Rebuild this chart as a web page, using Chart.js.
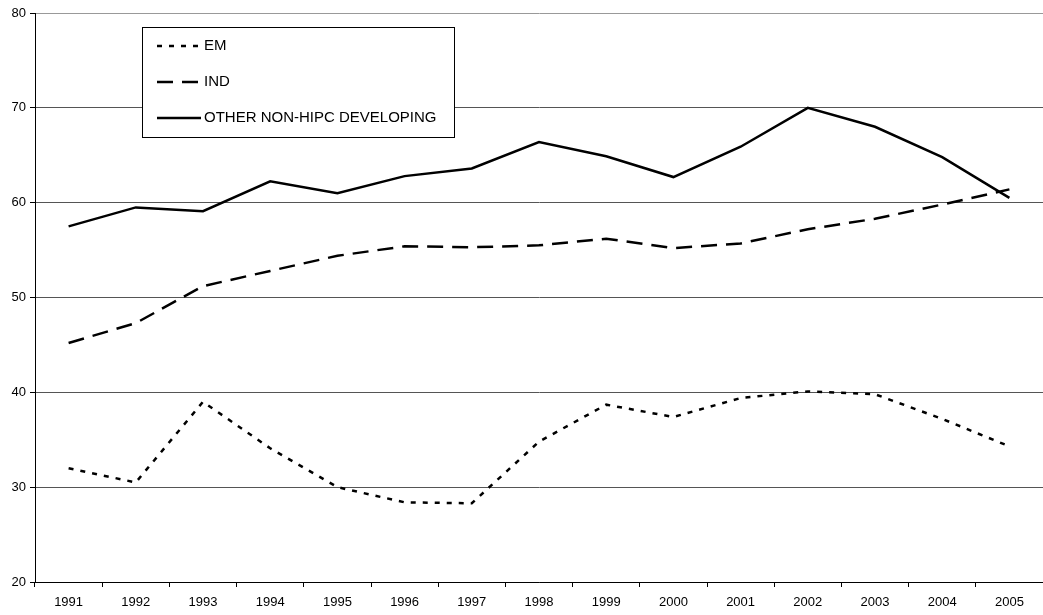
<!DOCTYPE html>
<html>
<head>
<meta charset="utf-8">
<script src="https://cdn.jsdelivr.net/npm/chart.js@4.4.1/dist/chart.umd.min.js"></script>
<style>
  html, body { margin: 0; padding: 0; background: #fff; }
  #wrap { width: 1043px; height: 615px; position: relative; }
</style>
</head>
<body>
<div id="wrap"><canvas id="chart"></canvas></div>
<script>
// years on the x axis
const years = ['1991', '1992', '1993', '1994', '1995', '1996', '1997', '1998', '1999', '2000', '2001', '2002', '2003', '2004', '2005'];

// series
const emValues = [32.0, 30.5, 39.0, 34.1, 30.0, 28.4, 28.3, 34.8, 38.7, 37.4, 39.4, 40.1, 39.8, 37.2, 34.3];
const indValues = [45.2, 47.3, 51.2, 52.8, 54.4, 55.4, 55.3, 55.5, 56.2, 55.2, 55.7, 57.2, 58.3, 59.8, 61.4];
const otherValues = [57.5, 59.5, 59.1, 62.25, 61.0, 62.8, 63.6, 66.4, 64.9, 62.7, 65.9, 70.0, 68.0, 64.8, 60.5];

const yTicks = [20, 30, 40, 50, 60, 70, 80];

const FONT = '"Liberation Sans", Arial, sans-serif';

// legend box drawn inside the plot, like the original
const boxLegend = {
    id: 'boxLegend',
    afterDraw(chart) {
        const ctx = chart.ctx;
        const x = 142, y = 27, w = 312, h = 110;
        ctx.save();
        ctx.fillStyle = '#fff';
        ctx.fillRect(x, y, w, h);
        ctx.strokeStyle = '#000';
        ctx.lineWidth = 1;
        ctx.strokeRect(x + 0.5, y + 0.5, w, h);
        chart.data.datasets.forEach((ds, i) => {
            const ly = y + 19 + i * 36;
            ctx.beginPath();
            ctx.setLineDash(ds.borderDash || []);
            ctx.lineWidth = 2.5;
            ctx.strokeStyle = '#000';
            ctx.moveTo(157, ly);
            ctx.lineTo(201, ly);
            ctx.stroke();
            ctx.setLineDash([]);
            ctx.fillStyle = '#000';
            ctx.font = '15px ' + FONT;
            ctx.textBaseline = 'middle';
            ctx.fillText(ds.label, 204, ly);
        });
        ctx.restore();
    }
};

const ctx = document.getElementById('chart').getContext('2d');
const chart = new Chart(ctx, {
    type: 'line',
    data: {
        labels: years,
        datasets: [
            {
                label: 'EM',
                data: emValues,
                borderColor: '#000',
                borderWidth: 2.5,
                borderDash: [5, 7],
                pointRadius: 0,
                tension: 0
            },
            {
                label: 'IND',
                data: indValues,
                borderColor: '#000',
                borderWidth: 2.5,
                borderDash: [16, 9],
                pointRadius: 0,
                tension: 0
            },
            {
                label: 'OTHER NON-HIPC DEVELOPING',
                data: otherValues,
                borderColor: '#000',
                borderWidth: 2.5,
                pointRadius: 0,
                tension: 0
            }
        ]
    },
    options: {
        responsive: true,
        maintainAspectRatio: false,
        animation: false,
        layout: { padding: { top: 13, right: 0, bottom: 0, left: 0 } },
        plugins: {
            legend: { display: false },
            tooltip: { enabled: false }
        },
        scales: {
            x: {
                offset: true,
                afterFit: (scale) => { scale.height = 33; },
                grid: { offset: true, drawOnChartArea: false, color: '#000', tickLength: 5 },
                border: { color: '#000', width: 1 },
                ticks: { color: '#000', font: { family: FONT, size: 13 }, maxRotation: 0, padding: 8 }
            },
            y: {
                min: 20,
                max: 80,
                afterFit: (scale) => { scale.width = 35; },
                afterBuildTicks: (scale) => { scale.ticks = yTicks.map(v => ({ value: v })); },
                grid: {
                    color: (c) => c.tick && c.tick.value === 80 ? '#999' : '#555',
                    tickLength: 5,
                    tickColor: '#000'
                },
                border: { color: '#000', width: 1 },
                ticks: { color: '#000', font: { family: FONT, size: 13 }, padding: 4 }
            }
        }
    },
    plugins: [boxLegend]
});
</script>
</body>
</html>
